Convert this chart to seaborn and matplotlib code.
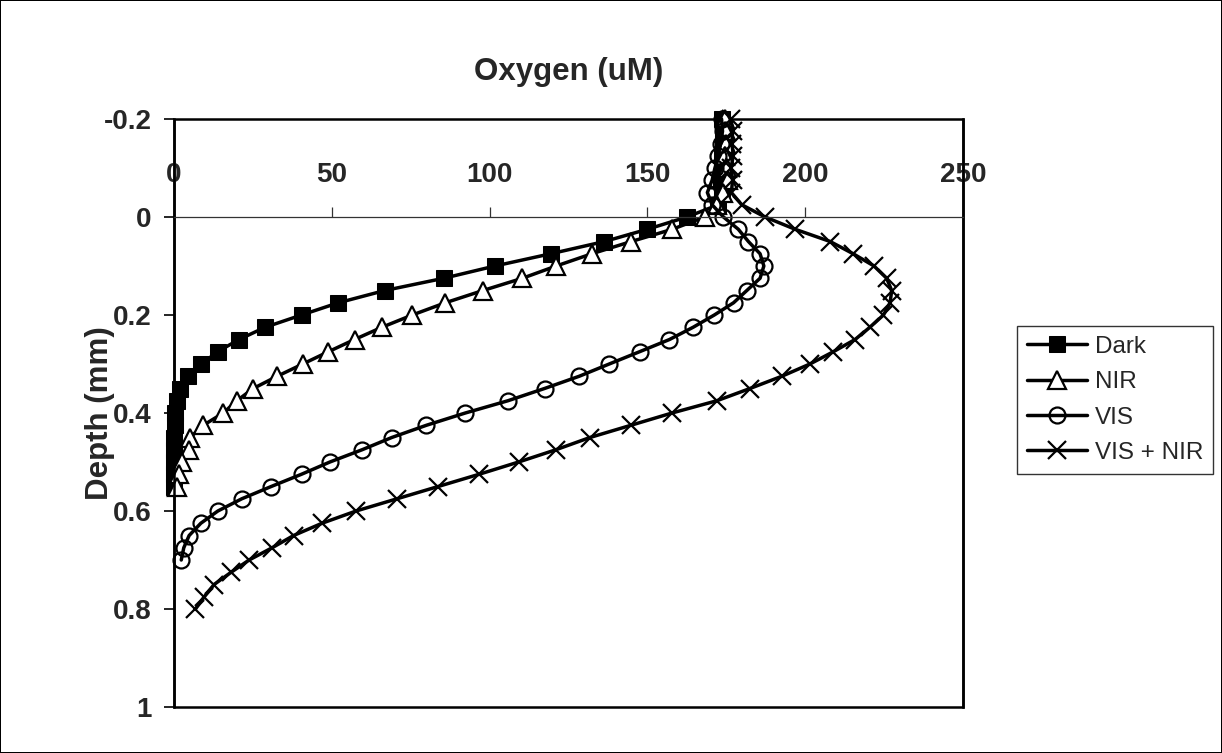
import matplotlib
matplotlib.use("Agg")
import matplotlib.pyplot as plt
from matplotlib.patches import Rectangle
import seaborn as sns
import pandas as pd

# ---------------- data ----------------
dark_depth = [-0.2, -0.175, -0.15, -0.125, -0.1, -0.075, -0.05, -0.025, 0.0,
              0.025, 0.05, 0.075, 0.1, 0.125, 0.15, 0.175, 0.2, 0.225, 0.25,
              0.275, 0.3, 0.325, 0.35, 0.375, 0.4, 0.425, 0.45, 0.475, 0.5,
              0.525, 0.55]
dark_o2 = [173.5, 173.8, 174.0, 173.6, 173.9, 173.4, 173.7, 172.5, 162.5,
           150.0, 136.4, 119.4, 101.7, 85.5, 66.8, 52.1, 40.4, 28.9, 20.6,
           13.8, 8.7, 4.5, 1.9, 0.8, 0.3, 0.2, 0.1, 0.1, 0.0,
           0.0, 0.0]

nir_depth = [-0.2, -0.175, -0.15, -0.125, -0.1, -0.075, -0.05, -0.025, 0.0,
             0.025, 0.05, 0.075, 0.1, 0.125, 0.15, 0.175, 0.2, 0.225, 0.25,
             0.275, 0.3, 0.325, 0.35, 0.375, 0.4, 0.425, 0.45, 0.475, 0.5,
             0.525, 0.55]
nir_o2 = [174.5, 174.8, 175.0, 174.6, 175.2, 175.5, 174.0, 172.0, 168.1,
          157.9, 144.9, 132.4, 121.1, 110.4, 97.9, 86.0, 75.5, 65.9, 57.2,
          48.9, 40.8, 32.7, 25.1, 19.9, 15.6, 9.3, 5.1, 4.6, 2.4,
          1.5, 1.0]

vis_depth = [-0.2, -0.175, -0.15, -0.125, -0.1, -0.075, -0.05, -0.025, 0.0,
             0.025, 0.05, 0.075, 0.1, 0.125, 0.15, 0.175, 0.2, 0.225, 0.25,
             0.275, 0.3, 0.325, 0.35, 0.375, 0.4, 0.425, 0.45, 0.475, 0.5,
             0.525, 0.55, 0.575, 0.6, 0.625, 0.65, 0.675, 0.7]
vis_o2 = [173.5, 173.8, 173.2, 172.5, 171.4, 170.5, 169.0, 170.5, 174.1,
          178.8, 182.0, 185.7, 186.9, 185.7, 181.5, 177.3, 171.2, 164.5, 157.0,
          147.5, 137.9, 128.4, 117.4, 105.8, 92.3, 80.0, 69.0, 59.6, 49.4,
          40.4, 30.8, 21.5, 13.9, 8.5, 4.8, 3.1, 2.3]

visnir_depth = [-0.2, -0.175, -0.15, -0.125, -0.1, -0.075, -0.05, -0.025, 0.0,
                0.025, 0.05, 0.075, 0.1, 0.125, 0.15, 0.175, 0.2, 0.225, 0.25,
                0.275, 0.3, 0.325, 0.35, 0.375, 0.4, 0.425, 0.45, 0.475, 0.5,
                0.525, 0.55, 0.575, 0.6, 0.625, 0.65, 0.675, 0.7, 0.725, 0.75,
                0.775, 0.8]
visnir_o2 = [176.5, 177.0, 176.8, 177.2, 176.5, 177.0, 176.6, 179.9, 187.3,
             196.8, 207.9, 215.2, 221.8, 225.8, 227.4, 226.9, 224.8, 220.5, 215.8,
             208.9, 201.5, 192.6, 182.5, 172.0, 157.8, 144.8, 131.8, 121.0, 109.2,
             96.7, 83.7, 70.7, 57.7, 46.9, 37.9, 31.1, 23.8, 18.1, 12.7,
             9.6, 6.8]

series_names = ["Dark", "NIR", "VIS", "VIS + NIR"]
x_ticks = [0, 50, 100, 150, 200, 250]
y_ticks = [-0.2, 0, 0.2, 0.4, 0.6, 0.8, 1]
y_ticklabels = ["-0.2", "0", "0.2", "0.4", "0.6", "0.8", "1"]

# ---------------- style ----------------
sns.set_theme(style="white")
plt.rcParams["font.family"] = ["Liberation Sans", "DejaVu Sans"]

W, H = 1222, 753
fig = plt.figure(figsize=(W / 100, H / 100), dpi=100,
                 facecolor="white", edgecolor="black", linewidth=1.2)
ax = fig.add_axes([174 / W, 1 - 707 / H, (963 - 174) / W, (707 - 119) / H])

frames = [
    (series_names[0], dark_o2, dark_depth,
     dict(marker="s", markersize=12, markerfacecolor="black", markeredgecolor="black")),
    (series_names[1], nir_o2, nir_depth,
     dict(marker="^", markersize=13, markerfacecolor="white", markeredgecolor="black",
          markeredgewidth=1.6)),
    (series_names[2], vis_o2, vis_depth,
     dict(marker="o", markersize=11.5, markerfacecolor="none", markeredgecolor="black",
          markeredgewidth=1.6)),
    (series_names[3], visnir_o2, visnir_depth,
     dict(marker="x", markersize=13.5, markeredgecolor="black", markeredgewidth=1.6)),
]

for name, o2, depth, mk in frames:
    df = pd.DataFrame({"oxygen": o2, "depth": depth})
    sns.lineplot(data=df, x="oxygen", y="depth", sort=False, estimator=None,
                 color="black", linewidth=2.5, label=name, ax=ax, clip_on=False, **mk)

ax.set_xlim(0, 250)
ax.set_ylim(1, -0.2)

# x axis drawn at depth 0 with labels above
ax.spines["top"].set_position(("data", 0))
ax.spines["top"].set_linewidth(0.9)
ax.spines["top"].set_color("#333333")
ax.xaxis.set_ticks_position("top")
ax.set_xticks(x_ticks)
ax.set_xticklabels([str(v) for v in x_ticks])
ax.tick_params(axis="x", direction="out", length=7, width=0.9, color="#333333",
               pad=14, labelsize=20)
ax.spines["bottom"].set_visible(False)

ax.set_yticks(y_ticks)
ax.set_yticklabels(y_ticklabels)
ax.tick_params(axis="y", direction="out", length=7, width=1.2, color="black",
               pad=9, labelsize=20, left=True)
ax.spines["left"].set_linewidth(1.8)
ax.spines["left"].set_color("black")
ax.spines["right"].set_linewidth(1.8)
ax.spines["right"].set_color("black")
for lab in ax.get_xticklabels() + ax.get_yticklabels():
    lab.set_fontweight("bold")

# plot-area frame (top and bottom edges)
ax.add_patch(Rectangle((0, 0), 1, 1, transform=ax.transAxes, fill=False,
                       edgecolor="black", linewidth=1.8, clip_on=False, zorder=0.5))

ax.set_xlabel("")
ax.set_ylabel("Depth (mm)", fontsize=22.5, fontweight="bold")
ax.yaxis.set_label_coords((100 - 174) / (963 - 174), 0.5)
ax.yaxis.label.set_va("center")

fig.text((174 + 963) / 2 / W, 1 - 72 / H, "Oxygen (uM)", ha="center", va="center",
         fontsize=22.5, fontweight="bold")

leg = ax.legend(loc="upper left", bbox_to_anchor=(1017 / W, 1 - 326 / H),
                bbox_transform=fig.transFigure, borderaxespad=0,
                fontsize=17.5, frameon=True, fancybox=False, edgecolor="black",
                handlelength=2.5, handletextpad=0.3, labelspacing=0.55,
                borderpad=0.4)
leg.get_frame().set_linewidth(1.0)

fig.savefig("out.png", dpi=100, facecolor="white", edgecolor=fig.get_edgecolor())
